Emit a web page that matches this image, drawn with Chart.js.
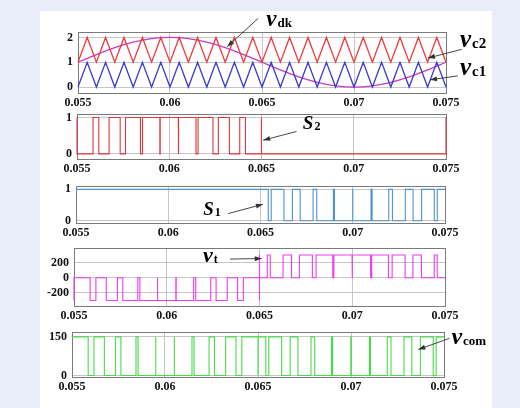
<!DOCTYPE html>
<html>
<head>
<meta charset="utf-8">
<script src="https://cdn.jsdelivr.net/npm/chart.js@4.4.1/dist/chart.umd.min.js"></script>
<style>
  html, body { margin: 0; padding: 0; }
  body { width: 520px; height: 408px; background: #e8edf7; position: relative; overflow: hidden; }
  #sheet { position: absolute; left: 40px; top: 11px; width: 452px; height: 397px; background: #fff; }
  canvas { position: absolute; left: 0; }
</style>
</head>
<body>
<div id="sheet"></div>
<canvas id="c1"></canvas>
<canvas id="c2"></canvas>
<canvas id="c3"></canvas>
<canvas id="c4"></canvas>
<canvas id="c5"></canvas>
<script>
// time axis
const xTicks = [0.055, 0.06, 0.065, 0.07, 0.075];
const xTickLabels = ["0.055", "0.06", "0.065", "0.07", "0.075"];

// carriers (triangle vertices) and control signal
const carrierT = [0.055, 0.0555, 0.056, 0.0565, 0.057, 0.0575, 0.058, 0.0585, 0.059, 0.0595,
  0.06, 0.0605, 0.061, 0.0615, 0.062, 0.0625, 0.063, 0.0635, 0.064, 0.0645,
  0.065, 0.0655, 0.066, 0.0665, 0.067, 0.0675, 0.068, 0.0685, 0.069, 0.0695,
  0.07, 0.0705, 0.071, 0.0715, 0.072, 0.0725, 0.073, 0.0735, 0.074, 0.0745, 0.075];
const vc1 = [0, 1, 0, 1, 0, 1, 0, 1, 0, 1, 0, 1, 0, 1, 0, 1, 0, 1, 0, 1,
  0, 1, 0, 1, 0, 1, 0, 1, 0, 1, 0, 1, 0, 1, 0, 1, 0, 1, 0, 1, 0];
const vc2 = [1, 2, 1, 2, 1, 2, 1, 2, 1, 2, 1, 2, 1, 2, 1, 2, 1, 2, 1, 2,
  1, 2, 1, 2, 1, 2, 1, 2, 1, 2, 1, 2, 1, 2, 1, 2, 1, 2, 1, 2, 1];
const vdkT = [0.055, 0.056, 0.057, 0.058, 0.059, 0.06, 0.061, 0.062, 0.063, 0.064, 0.065,
  0.066, 0.067, 0.068, 0.069, 0.07, 0.071, 0.072, 0.073, 0.074, 0.075];
const vdk = [1, 1.31, 1.59, 1.81, 1.95, 2, 1.95, 1.81, 1.59, 1.31, 1,
  0.69, 0.41, 0.19, 0.05, 0, 0.05, 0.19, 0.41, 0.69, 1];

// switching: S2 on-intervals (first half), S1 off-intervals (second half)
const s2On = [[0.05587, 0.05618], [0.05674, 0.05734], [0.05763, 0.05844], [0.05855, 0.05949],
  [0.05951, 0.06049], [0.06051, 0.06145], [0.06156, 0.06237], [0.06266, 0.06326], [0.06382, 0.06413]];
const s2Spikes = [0.055, 0.065, 0.075];
const s1Off = [[0.06542, 0.06558], [0.06627, 0.06673], [0.06715, 0.06785], [0.06805, 0.06895],
  [0.06901, 0.06999], [0.07001, 0.07099], [0.07105, 0.07195], [0.07215, 0.07285],
  [0.07327, 0.07373], [0.07442, 0.07458]];
const vtLow = -300;
const vtHigh = 300;
const vtSpikes = [[0.055, -300], [0.065, -300], [0.065, 300]];
const vcomHigh = 150;
const vcomSpikes = [0.065];

function square(base, pulses) {
  const list = pulses.slice().sort((a, b) => a[0] - b[0]);
  let pts = [{ x: xTicks[0], y: base }];
  list.forEach(([a, b, lv]) => {
    pts.push({ x: a, y: base }, { x: a, y: lv }, { x: b, y: lv }, { x: b, y: base });
  });
  pts.push({ x: xTicks[xTicks.length - 1], y: base });
  return pts;
}
const zip = (xs, ys) => xs.map((x, i) => ({ x: x, y: ys[i] }));

const serif = '"Liberation Serif", "Times New Roman", serif';

function notesPlugin(notes) {
  return {
    id: "notes",
    beforeDatasetsDraw(chart) {
      const a = chart.chartArea, ctx = chart.ctx;
      ctx.save();
      ctx.strokeStyle = "#7a7a7a";
      ctx.lineWidth = 1;
      ctx.strokeRect(Math.round(a.left) + 0.5, Math.round(a.top) + 0.5,
        Math.round(a.right - a.left), Math.round(a.bottom - a.top));
      ctx.restore();
    },
    afterDraw(chart) {
      const ctx = chart.ctx, x = chart.scales.x, y = chart.scales.y;
      ctx.save();
      (notes.arrows || []).forEach(([f, t]) => {
        const x1 = x.getPixelForValue(f[0]), y1 = y.getPixelForValue(f[1]);
        const x2 = x.getPixelForValue(t[0]), y2 = y.getPixelForValue(t[1]);
        const ang = Math.atan2(y2 - y1, x2 - x1);
        ctx.strokeStyle = "#333";
        ctx.fillStyle = "#333";
        ctx.lineWidth = 0.9;
        ctx.beginPath();
        ctx.moveTo(x1, y1);
        ctx.lineTo(x2, y2);
        ctx.stroke();
        ctx.beginPath();
        ctx.moveTo(x2, y2);
        ctx.lineTo(x2 - 7 * Math.cos(ang) + 2.5 * Math.sin(ang), y2 - 7 * Math.sin(ang) - 2.5 * Math.cos(ang));
        ctx.lineTo(x2 - 7 * Math.cos(ang) - 2.5 * Math.sin(ang), y2 - 7 * Math.sin(ang) + 2.5 * Math.cos(ang));
        ctx.closePath();
        ctx.fill();
      });
      (notes.labels || []).forEach((n) => {
        const px = x.getPixelForValue(n.t), py = y.getPixelForValue(n.v);
        ctx.fillStyle = "#000";
        ctx.textBaseline = "alphabetic";
        ctx.textAlign = "left";
        ctx.font = "italic bold " + n.size + "px " + serif;
        ctx.fillText(n.main, px, py);
        const w = ctx.measureText(n.main).width;
        ctx.font = "bold " + n.subSize + "px " + serif;
        ctx.fillText(n.sub, px + w + 1, py + 1);
      });
      ctx.restore();
    }
  };
}

function makeChart(id, box, yMin, yMax, yTicks, yLabels, datasets, notes) {
  const padTop = box.padTop;
  const axisH = 20;
  const el = document.getElementById(id);
  el.width = 520;
  el.height = padTop + (box.b - box.t) + axisH;
  el.style.top = (box.t - padTop) + "px";
  new Chart(el.getContext("2d"), {
    type: "line",
    data: { datasets: datasets },
    options: {
      responsive: false,
      animation: false,
      devicePixelRatio: 1,
      layout: { padding: { top: padTop, right: 520 - box.r, left: 0, bottom: 0 } },
      plugins: { legend: { display: false }, tooltip: { enabled: false } },
      elements: { point: { radius: 0 }, line: { tension: 0 } },
      scales: {
        x: {
          type: "linear",
          min: xTicks[0],
          max: xTicks[xTicks.length - 1],
          afterBuildTicks: (s) => { s.ticks = xTicks.map((v) => ({ value: v })); },
          afterFit: (s) => { s.height = axisH; },
          ticks: {
            autoSkip: false,
            maxRotation: 0,
            padding: 3,
            color: "#111",
            font: { family: serif, size: 12, weight: "bold" },
            callback: (v) => xTickLabels[xTicks.indexOf(v)]
          },
          grid: { color: "#c6c6c6", drawTicks: false },
          border: { color: "#7a7a7a" }
        },
        y: {
          min: yMin,
          max: yMax,
          afterBuildTicks: (s) => { s.ticks = yTicks.map((v) => ({ value: v })); },
          afterFit: (s) => { s.width = box.l; },
          ticks: {
            padding: 5,
            color: "#111",
            font: { family: serif, size: 12, weight: "bold" },
            callback: (v) => yLabels[yTicks.indexOf(v)]
          },
          grid: { color: "#c6c6c6", drawTicks: false },
          border: { color: "#7a7a7a" }
        }
      }
    },
    plugins: [notesPlugin(notes)]
  });
}

const line = (data, color, width, extra) => Object.assign({
  data: data, borderColor: color, borderWidth: width, pointRadius: 0, clip: 3, fill: false
}, extra || {});

// panel 1: carriers and control signal
makeChart("c1", { l: 78, t: 32, r: 446, b: 93, padTop: 22 }, -0.24, 2.22,
  [0, 1, 2], ["0", "1", "2"],
  [
    line(zip(carrierT, vc2), "#ef3b3b", 1.3),
    line(zip(carrierT, vc1), "#3a3ad2", 1.3),
    line(zip(vdkT, vdk), "#c63cc6", 1.3, { cubicInterpolationMode: "monotone" })
  ],
  {
    arrows: [
      [[0.06479, 2.77], [0.06311, 1.63]],
      [[0.07585, 1.52], [0.07402, 1.17]],
      [[0.07565, 0.45], [0.07413, 0.29]]
    ],
    labels: [
      { t: 0.06523, v: 2.45, main: "v", sub: "dk", size: 23, subSize: 13 },
      { t: 0.07576, v: 1.61, main: "v", sub: "c2", size: 25, subSize: 15 },
      { t: 0.07576, v: 0.49, main: "v", sub: "c1", size: 25, subSize: 15 }
    ]
  });

// panel 2: S2
makeChart("c2", { l: 77, t: 112, r: 446, b: 159, padTop: 10 }, -0.14, 1.09,
  [0, 1], ["0", "1"],
  [line(square(0, s2On.map((p) => [p[0], p[1], 1]).concat(s2Spikes.map((t) => [t, t, 1]))), "#e4363a", 1.1)],
  {
    arrows: [[[0.0669, 0.615], [0.06509, 0.377]]],
    labels: [{ t: 0.06724, v: 0.67, main: "S", sub: "2", size: 19, subSize: 12 }]
  });

// panel 3: S1
makeChart("c3", { l: 76, t: 184, r: 445, b: 223, padTop: 10 }, -0.07, 1.1,
  [0, 1], ["0", "1"],
  [line(square(1, s1Off.map((p) => [p[0], p[1], 0])), "#4f94cd", 1.1)],
  {
    arrows: [[[0.06325, 0.23], [0.06513, 0.525]]],
    labels: [{ t: 0.0619, v: 0.18, main: "S", sub: "1", size: 19, subSize: 12 }]
  });

// panel 4: vt
makeChart("c4", { l: 74, t: 246, r: 445, b: 306, padTop: 10 }, -372, 389,
  [-200, 0, 200], ["-200", "0", "200"],
  [line(square(0, s2On.map((p) => [p[0], p[1], vtLow])
    .concat(s1Off.map((p) => [p[0], p[1], vtHigh]))
    .concat(vtSpikes.map(([t, lv]) => [t, t, lv]))), "#ee3cee", 1.1)],
  {
    arrows: [[[0.06341, 246], [0.06512, 253]]],
    labels: [{ t: 0.06195, v: 211, main: "v", sub: "t", size: 22, subSize: 12 }]
  });

// panel 5: vcom
makeChart("c5", { l: 72, t: 330, r: 444, b: 377, padTop: 10 }, -6, 168,
  [0, 150], ["0", "150"],
  [line(square(vcomHigh, s2On.concat(s1Off).map((p) => [p[0], p[1], 0])
    .concat(vcomSpikes.map((t) => [t, t, 0]))), "#46dc46", 1.1)],
  {
    arrows: [[[0.07529, 144], [0.07362, 101]]],
    labels: [{ t: 0.0754, v: 124, main: "v", sub: "com", size: 24, subSize: 13 }]
  });
</script>
</body>
</html>
